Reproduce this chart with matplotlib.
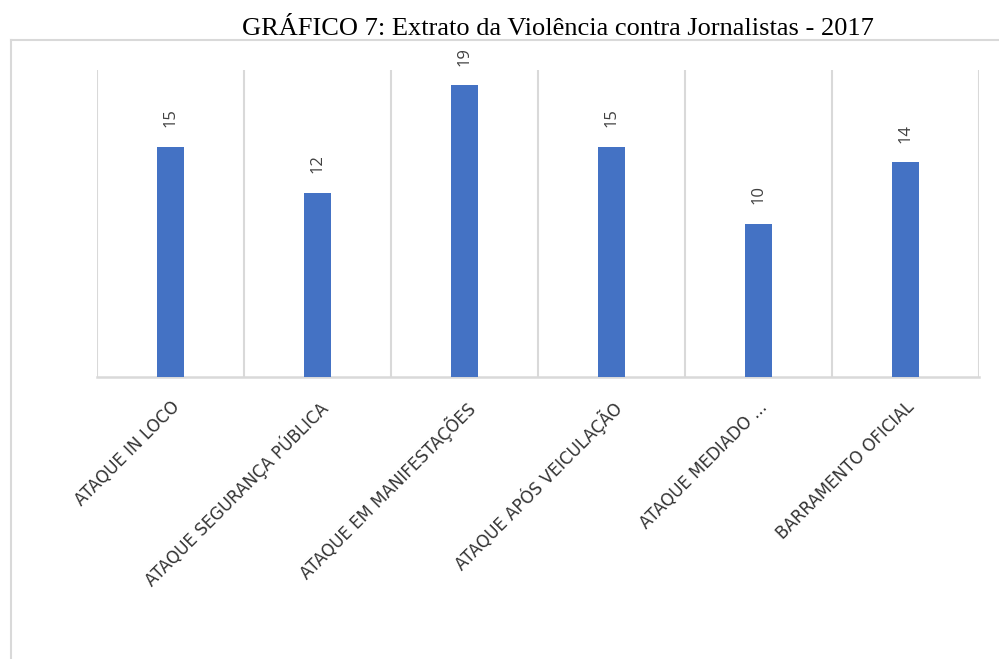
import matplotlib.pyplot as plt
from matplotlib.lines import Line2D

# data
categories = [
    "ATAQUE IN LOCO",
    "ATAQUE SEGURANÇA PÚBLICA",
    "ATAQUE EM MANIFESTAÇÕES",
    "ATAQUE APÓS VEICULAÇÃO",
    "ATAQUE MEDIADO ...",
    "BARRAMENTO OFICIAL",
]
values = [15, 12, 19, 15, 10, 14]
title = "GRÁFICO 7: Extrato da Violência contra Jornalistas - 2017"

bar_color = "#4472C4"
grid_color = "#D9D9D9"
text_color = "#404040"

W, H = 999, 659
fig = plt.figure(figsize=(W / 100, H / 100), dpi=100)
ax = fig.add_axes([97 / W, (H - 377) / H, 882 / W, 307 / H])

x = list(range(len(categories)))
ax.bar(x, values, width=0.19, color=bar_color, zorder=3)

ax.set_xlim(-0.5, len(categories) - 0.5)
ax.set_ylim(0, 20)

# category separators
for i in range(len(categories) + 1):
    ax.axvline(i - 0.5, color=grid_color, lw=1.5, zorder=1)

for s in ["top", "left", "right"]:
    ax.spines[s].set_visible(False)
ax.spines["bottom"].set_color(grid_color)
ax.spines["bottom"].set_linewidth(1.8)
ax.set_yticks([])
ax.tick_params(axis="x", length=0, pad=15)
ax.set_xticks(x)
ax.set_xticklabels(categories, rotation=45, ha="right", va="top",
                   rotation_mode="anchor", fontsize=12,
                   family="DejaVu Sans", color="#333333")

# value labels
for xi, v in zip(x, values):
    ax.annotate(str(v), (xi, v), xytext=(0, 14), textcoords="offset points",
                rotation=90, ha="center", va="bottom", fontsize=12,
                family="Open Sans", color=text_color)

# outer chart frame (cut by the image edges)
fig.add_artist(Line2D([10.5 / W, 10.5 / W], [0, (H - 40) / H],
                      transform=fig.transFigure, color=grid_color, lw=1.5))
fig.add_artist(Line2D([10.5 / W, 1], [(H - 40) / H, (H - 40) / H],
                      transform=fig.transFigure, color=grid_color, lw=1.5))

fig.text(558 / W, (H - 29) / H, title, ha="center", va="center",
         fontsize=19, family="Liberation Serif", color="black")

fig.savefig("out.png", dpi=100)
